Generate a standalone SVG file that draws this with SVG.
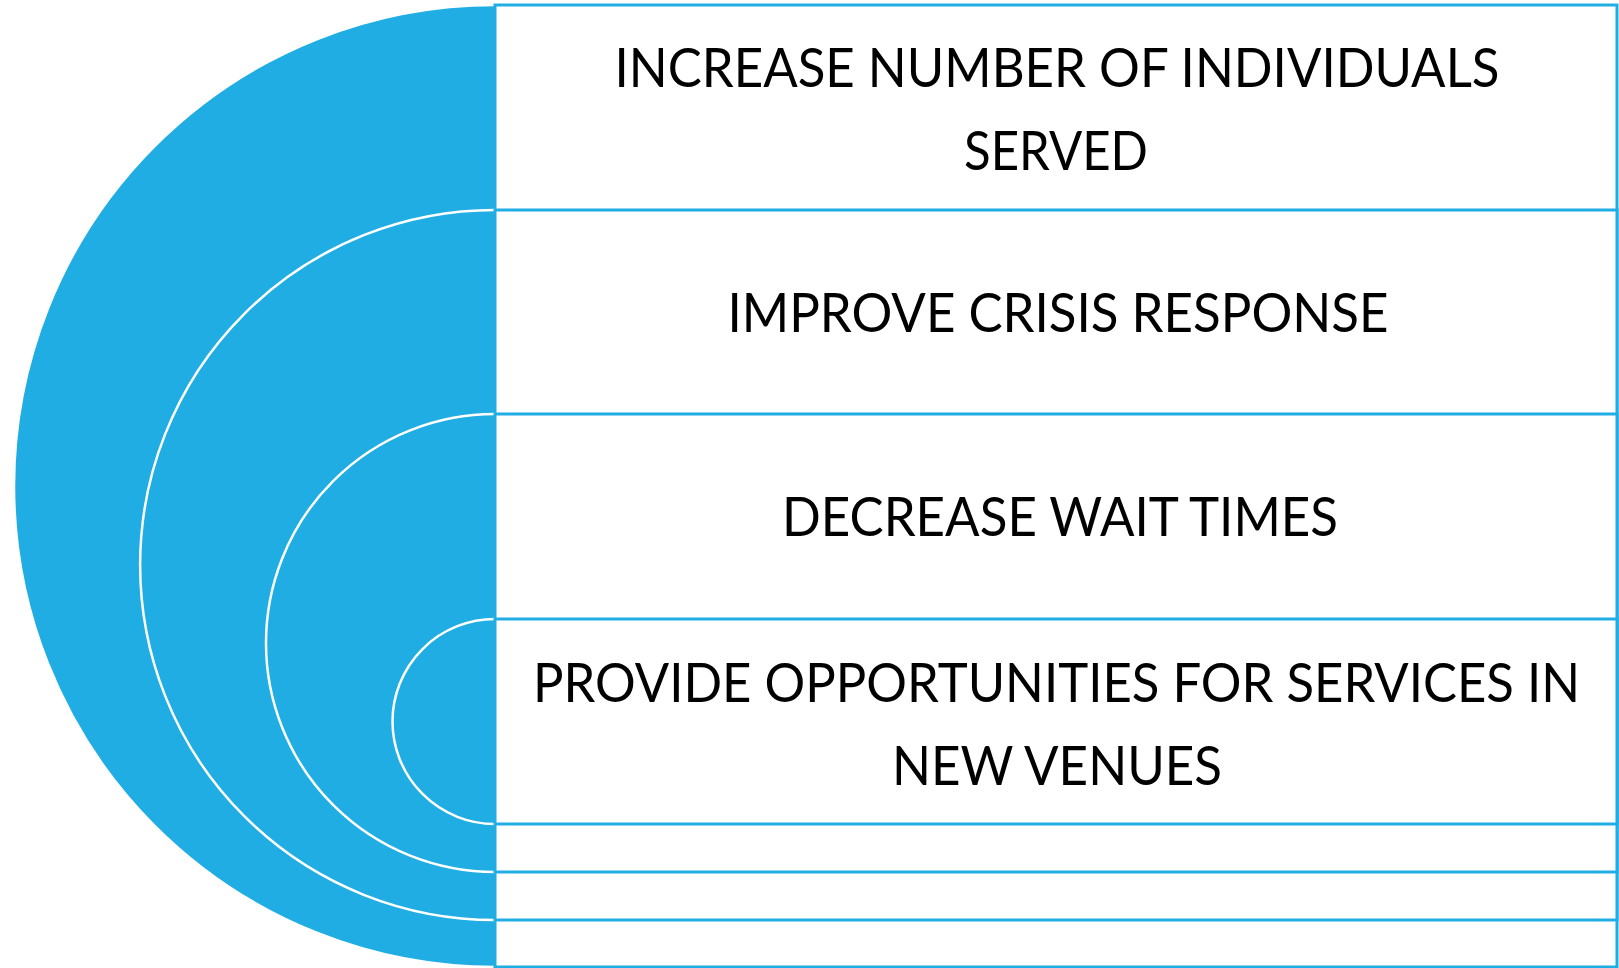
<svg xmlns="http://www.w3.org/2000/svg" width="1619" height="968" viewBox="0 0 1619 968">
<style>
.disc{fill:#1FADE3;stroke:#FFFFFF;stroke-width:2.5}
.box{fill:#FFFFFF;stroke:#1FADE3;stroke-width:3}
.lbl{font-family:Lato,"Open Sans","Liberation Sans",sans-serif;font-size:54px;fill:#000000;text-anchor:middle}
</style>
<rect x="0" y="0" width="1619" height="968" fill="#FFFFFF"/>
<g id="node1">
<path class="disc" d="M495,5 A481,481 0 0 0 495,967" stroke="none"/>
<rect class="box" x="495" y="5" width="1122" height="962"/>
<text class="lbl" x="1057" y="87" textLength="885" lengthAdjust="spacingAndGlyphs">INCREASE NUMBER OF INDIVIDUALS</text>
<text class="lbl" x="1056" y="170" textLength="184" lengthAdjust="spacingAndGlyphs">SERVED</text>
</g>
<g id="node2">
<path class="disc" d="M495,210 A355,355 0 0 0 495,920"/>
<rect class="box" x="495" y="210" width="1122" height="710"/>
<text class="lbl" x="1058" y="332" textLength="661" lengthAdjust="spacingAndGlyphs">IMPROVE CRISIS RESPONSE</text>
</g>
<g id="node3">
<path class="disc" d="M495,414 A229,229 0 0 0 495,872"/>
<rect class="box" x="495" y="414" width="1122" height="458"/>
<text class="lbl" x="1060" y="536" textLength="556" lengthAdjust="spacingAndGlyphs">DECREASE WAIT TIMES</text>
</g>
<g id="node4">
<path class="disc" d="M495,619 A102.5,102.5 0 0 0 495,824"/>
<rect class="box" x="495" y="619" width="1122" height="205"/>
<text class="lbl" x="1056.5" y="702" textLength="1047" lengthAdjust="spacingAndGlyphs">PROVIDE OPPORTUNITIES FOR SERVICES IN</text>
<text class="lbl" x="1057" y="785" textLength="330" lengthAdjust="spacingAndGlyphs">NEW VENUES</text>
</g>
<g id="connectors"></g>
</svg>
